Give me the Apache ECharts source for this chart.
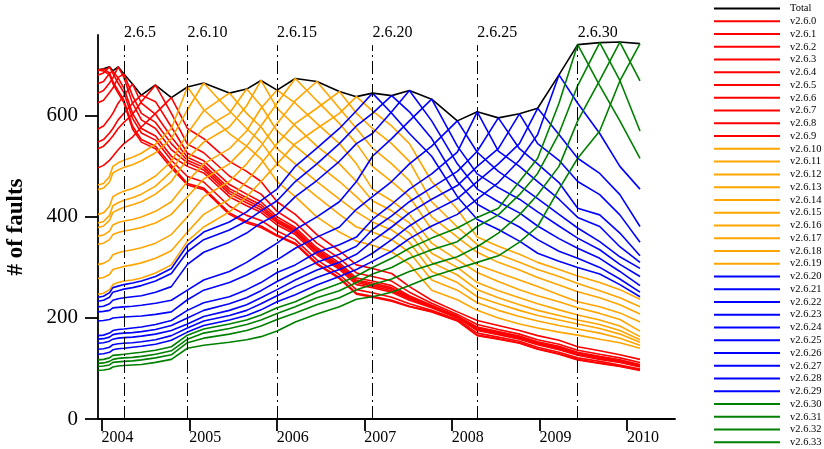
<!DOCTYPE html>
<html>
<head>
<meta charset="utf-8">
<script src="https://cdn.jsdelivr.net/npm/echarts@6/dist/echarts.min.js"></script>
<style>
html, body { margin: 0; padding: 0; background: #fff; }
#chart { width: 824px; height: 449px; }
</style>
</head>
<body>
<div id="chart"></div>
<script>
// Release dates of the Linux 2.6.x kernels (one x position per release)
const releaseDates = [
  '2003-12-17', '2004-01-09', '2004-02-03', '2004-02-17', '2004-03-10', '2004-04-03',
  '2004-05-09', '2004-06-15', '2004-08-13', '2004-10-18', '2004-12-24', '2005-03-02',
  '2005-06-17', '2005-08-28', '2005-10-27', '2006-01-02', '2006-03-19', '2006-06-17',
  '2006-09-19', '2006-11-29', '2007-02-04', '2007-04-25', '2007-07-08', '2007-10-09',
  '2008-01-24', '2008-04-16', '2008-07-13', '2008-10-09', '2008-12-24', '2009-03-23',
  '2009-06-09', '2009-09-09', '2009-12-02', '2010-02-24'
];

const versionNames = [
  'v2.6.0', 'v2.6.1', 'v2.6.2', 'v2.6.3', 'v2.6.4', 'v2.6.5', 'v2.6.6', 'v2.6.7', 'v2.6.8', 'v2.6.9',
  'v2.6.10', 'v2.6.11', 'v2.6.12', 'v2.6.13', 'v2.6.14', 'v2.6.15', 'v2.6.16', 'v2.6.17', 'v2.6.18', 'v2.6.19',
  'v2.6.20', 'v2.6.21', 'v2.6.22', 'v2.6.23', 'v2.6.24', 'v2.6.25', 'v2.6.26', 'v2.6.27', 'v2.6.28', 'v2.6.29',
  'v2.6.30', 'v2.6.31', 'v2.6.32', 'v2.6.33'
];

// Total number of faults in each release
const totalFaults = [691, 693, 697, 689, 697, 683, 663, 641, 661, 636, 657, 665, 645, 653, 670, 651, 674, 668, 648, 638,
  645, 640, 650, 633, 590, 608, 596, 604, 615, 681, 741, 745, 746, 743];

// Faults of each version that are also present in every other release
const v2_6_0 = [691, 689, 681, 664, 645, 626, 574, 548, 535, 497, 463, 454, 405, 388, 379, 362, 346, 306, 278, 247, 241, 233, 222, 212, 194, 165, 158, 150, 138, 128, 117, 110, 104, 96];
const v2_6_1 = [689, 693, 685, 668, 650, 631, 580, 553, 540, 502, 466, 457, 408, 391, 382, 364, 348, 308, 280, 249, 243, 235, 223, 213, 195, 166, 159, 151, 139, 129, 118, 111, 105, 97];
const v2_6_2 = [681, 685, 697, 684, 665, 646, 595, 566, 552, 512, 480, 469, 421, 403, 393, 372, 355, 315, 286, 256, 250, 241, 228, 215, 197, 170, 162, 154, 142, 132, 121, 114, 107, 99];
const v2_6_3 = [664, 668, 684, 689, 675, 655, 605, 575, 560, 520, 500, 487, 440, 422, 409, 384, 365, 325, 296, 266, 260, 251, 235, 220, 200, 175, 167, 158, 147, 137, 126, 118, 112, 103];
const v2_6_4 = [645, 650, 665, 675, 697, 676, 625, 592, 575, 533, 507, 493, 446, 428, 414, 389, 369, 329, 299, 270, 263, 254, 238, 221, 201, 177, 169, 160, 149, 139, 127, 120, 113, 105];
const v2_6_5 = [626, 631, 646, 655, 676, 683, 640, 605, 587, 545, 512, 498, 451, 433, 419, 392, 372, 332, 302, 273, 266, 257, 240, 222, 202, 178, 170, 161, 150, 140, 128, 121, 114, 106];
const v2_6_6 = [574, 580, 595, 605, 625, 640, 663, 625, 603, 558, 518, 503, 456, 438, 424, 395, 375, 335, 305, 275, 269, 260, 242, 223, 203, 180, 171, 162, 151, 142, 130, 122, 115, 107];
const v2_6_7 = [548, 553, 566, 575, 592, 605, 625, 641, 628, 578, 526, 511, 464, 445, 430, 400, 379, 339, 309, 279, 273, 264, 244, 225, 204, 182, 173, 164, 153, 144, 132, 124, 117, 108];
const v2_6_8 = [535, 540, 552, 560, 575, 587, 603, 628, 661, 605, 544, 527, 481, 461, 445, 411, 388, 348, 318, 289, 282, 273, 251, 229, 207, 187, 177, 168, 157, 148, 136, 128, 121, 112];
const v2_6_9 = [497, 502, 512, 520, 533, 545, 558, 578, 605, 636, 575, 555, 510, 490, 470, 430, 405, 365, 333, 305, 298, 288, 262, 235, 212, 195, 185, 175, 165, 156, 143, 135, 127, 118];
const v2_6_10 = [463, 466, 480, 500, 507, 512, 518, 526, 544, 575, 657, 612, 565, 540, 515, 470, 440, 400, 370, 352, 344, 331, 306, 255, 236, 215, 200, 188, 180, 172, 166, 158, 151, 140];
const v2_6_11 = [454, 457, 469, 487, 493, 498, 503, 511, 527, 555, 612, 665, 610, 575, 548, 505, 475, 440, 405, 380, 370, 355, 330, 275, 255, 230, 215, 203, 194, 185, 178, 170, 160, 146];
const v2_6_12 = [405, 408, 421, 440, 446, 451, 456, 464, 481, 510, 565, 610, 645, 605, 578, 535, 505, 470, 435, 410, 390, 374, 350, 292, 270, 242, 228, 215, 205, 196, 188, 179, 168, 152];
const v2_6_13 = [388, 391, 403, 422, 428, 433, 438, 445, 461, 490, 540, 575, 605, 653, 620, 570, 540, 505, 470, 440, 410, 392, 368, 310, 285, 256, 240, 226, 215, 205, 196, 187, 175, 157];
const v2_6_14 = [379, 382, 393, 409, 414, 419, 424, 430, 445, 470, 515, 548, 578, 620, 670, 615, 580, 540, 505, 470, 432, 412, 388, 328, 300, 270, 254, 240, 228, 216, 206, 196, 184, 163];
const v2_6_15 = [362, 364, 372, 384, 389, 392, 395, 400, 411, 430, 470, 505, 535, 570, 615, 651, 625, 585, 545, 505, 455, 432, 405, 348, 315, 290, 272, 256, 244, 232, 220, 209, 197, 174];
const v2_6_16 = [346, 348, 355, 365, 369, 372, 375, 379, 388, 405, 440, 475, 505, 540, 580, 625, 674, 630, 585, 545, 500, 470, 440, 375, 338, 305, 290, 275, 262, 246, 232, 222, 210, 192];
const v2_6_17 = [306, 308, 315, 325, 329, 332, 335, 339, 348, 365, 400, 440, 470, 505, 540, 585, 630, 668, 615, 575, 536, 505, 472, 400, 360, 330, 310, 295, 280, 265, 252, 240, 226, 208];
const v2_6_18 = [278, 280, 286, 296, 299, 302, 305, 309, 318, 333, 370, 405, 435, 470, 505, 545, 585, 615, 648, 605, 575, 545, 510, 430, 380, 345, 326, 310, 296, 282, 268, 254, 240, 222];
const v2_6_19 = [247, 249, 256, 266, 270, 273, 275, 279, 289, 305, 352, 380, 410, 440, 470, 505, 545, 575, 605, 638, 610, 580, 545, 470, 415, 360, 342, 326, 310, 296, 283, 270, 256, 237];
const v2_6_20 = [241, 243, 250, 260, 263, 266, 269, 273, 282, 298, 344, 370, 390, 410, 432, 455, 500, 536, 575, 610, 645, 605, 565, 520, 440, 395, 375, 352, 328, 312, 300, 287, 266, 242];
const v2_6_21 = [233, 235, 241, 251, 254, 257, 260, 264, 273, 288, 331, 355, 374, 392, 412, 432, 470, 505, 545, 580, 605, 640, 608, 555, 470, 425, 402, 380, 355, 332, 318, 300, 277, 251];
const v2_6_22 = [222, 223, 228, 235, 238, 240, 242, 244, 251, 262, 306, 330, 350, 368, 388, 405, 440, 472, 510, 545, 565, 608, 650, 590, 505, 455, 430, 408, 382, 357, 338, 318, 292, 264];
const v2_6_23 = [212, 213, 215, 220, 221, 222, 223, 225, 229, 235, 255, 275, 292, 310, 328, 348, 375, 400, 430, 470, 520, 555, 590, 633, 540, 485, 458, 435, 410, 382, 358, 335, 306, 282];
const v2_6_24 = [194, 195, 197, 200, 201, 202, 203, 204, 207, 212, 236, 255, 270, 285, 300, 315, 338, 360, 380, 415, 440, 470, 505, 540, 590, 528, 490, 462, 436, 405, 378, 351, 321, 298];
const v2_6_25 = [165, 166, 170, 175, 177, 178, 180, 182, 187, 195, 215, 230, 242, 256, 270, 290, 305, 330, 345, 360, 395, 425, 455, 485, 528, 608, 530, 500, 470, 435, 399, 381, 341, 310];
const v2_6_26 = [158, 159, 162, 167, 169, 170, 171, 173, 177, 185, 200, 215, 228, 240, 254, 272, 290, 310, 326, 342, 375, 402, 430, 458, 490, 530, 596, 535, 505, 468, 417, 404, 368, 323];
const v2_6_27 = [150, 151, 154, 158, 160, 161, 162, 164, 168, 175, 188, 203, 215, 226, 240, 256, 275, 295, 310, 326, 352, 380, 408, 435, 462, 500, 535, 604, 545, 512, 470, 444, 404, 350];
const v2_6_28 = [138, 139, 142, 147, 149, 150, 151, 153, 157, 165, 180, 194, 205, 215, 228, 244, 262, 280, 296, 310, 328, 355, 382, 410, 436, 470, 505, 545, 615, 563, 516, 486, 444, 381];
const v2_6_29 = [128, 129, 132, 137, 139, 140, 142, 144, 148, 156, 172, 185, 196, 205, 216, 232, 246, 265, 282, 296, 312, 332, 357, 382, 405, 435, 468, 512, 563, 681, 625, 565, 500, 455];
const v2_6_30 = [117, 118, 121, 126, 127, 128, 130, 132, 136, 143, 166, 178, 188, 196, 206, 220, 232, 252, 268, 283, 300, 318, 338, 358, 378, 399, 417, 470, 516, 625, 741, 660, 590, 516];
const v2_6_31 = [110, 111, 114, 118, 120, 121, 122, 124, 128, 135, 158, 170, 179, 187, 196, 209, 222, 240, 254, 270, 287, 300, 318, 335, 351, 381, 404, 444, 486, 565, 660, 745, 670, 570];
const v2_6_32 = [104, 105, 107, 112, 113, 114, 115, 117, 121, 127, 151, 160, 168, 175, 184, 197, 210, 226, 240, 256, 266, 277, 292, 306, 321, 341, 368, 404, 444, 500, 590, 670, 746, 669];
const v2_6_33 = [96, 97, 99, 103, 105, 106, 107, 108, 112, 118, 140, 146, 152, 157, 163, 174, 192, 208, 222, 237, 242, 251, 264, 282, 298, 310, 323, 350, 381, 455, 516, 570, 669, 743];

const versionFaults = [
  v2_6_0, v2_6_1, v2_6_2, v2_6_3, v2_6_4, v2_6_5, v2_6_6, v2_6_7, v2_6_8, v2_6_9,
  v2_6_10, v2_6_11, v2_6_12, v2_6_13, v2_6_14, v2_6_15, v2_6_16, v2_6_17, v2_6_18, v2_6_19,
  v2_6_20, v2_6_21, v2_6_22, v2_6_23, v2_6_24, v2_6_25, v2_6_26, v2_6_27, v2_6_28, v2_6_29,
  v2_6_30, v2_6_31, v2_6_32, v2_6_33
];

// Releases marked with a vertical line, and their labels
const markedReleases = [5, 10, 15, 20, 25, 30];
const markedLabels = ['2.6.5', '2.6.10', '2.6.15', '2.6.20', '2.6.25', '2.6.30'];

// Year ticks along the time axis
const yearTicks = ['2004-01-01', '2005-01-01', '2006-01-01', '2007-01-01', '2008-01-01', '2009-01-01', '2010-01-01'];
const yearLabels = ['2004', '2005', '2006', '2007', '2008', '2009', '2010'];

// Fault-count ticks
const countTicks = [0, 200, 400, 600];

const axisStart = '2003-12-17';
const axisEnd = '2010-07-20';

// Dates become day numbers so the axis can be a plain value axis
function toDay(s) {
  const p = s.split('-').map(Number);
  return Math.round(Date.UTC(p[0], p[1] - 1, p[2]) / 86400000);
}

const releaseDays = releaseDates.map(toDay);
const yearTickDays = yearTicks.map(toDay);

const groupColors = ['#ff0000', '#ffa500', '#0000ff', '#008000'];
const serif = "'Liberation Serif', 'DejaVu Serif', serif";

function pairs(values) {
  return values.map((v, i) => [releaseDays[i], v]);
}

const series = [];

series.push({
  name: 'Total',
  type: 'line',
  data: pairs(totalFaults),
  showSymbol: false,
  symbol: 'none',
  lineStyle: { color: '#000', width: 1.6 },
  itemStyle: { color: '#000' },
  markLine: {
    silent: true,
    symbol: ['none', 'none'],
    animation: false,
    lineStyle: { color: '#000', width: 1, type: [13, 4, 2, 4] },
    label: {
      show: true,
      position: 'end',
      align: 'left',
      distance: 4,
      color: '#000',
      fontFamily: serif,
      fontSize: 16
    },
    data: markedReleases.map((idx, k) => [
      { coord: [releaseDays[idx], 0] },
      { coord: [releaseDays[idx], 740], label: { formatter: markedLabels[k] } }
    ])
  }
});

versionFaults.forEach((values, i) => {
  const color = groupColors[Math.floor(i / 10)];
  series.push({
    name: versionNames[i],
    type: 'line',
    data: pairs(values),
    showSymbol: false,
    symbol: 'none',
    lineStyle: { color: color, width: 1.6 },
    itemStyle: { color: color }
  });
});

const chart = echarts.init(document.getElementById('chart'), null, { renderer: 'canvas' });

chart.setOption({
  animation: false,
  backgroundColor: '#fff',
  grid: { left: 98, right: 149, top: 35, bottom: 30, containLabel: false, outerBoundsMode: 'none' },
  legend: {
    orient: 'vertical',
    left: 714,
    top: 3,
    padding: 0,
    itemWidth: 66,
    itemHeight: 11,
    itemGap: 1.76,
    selectedMode: false,
    icon: 'path://M0,5 L66,5 L66,7 L0,7 Z',
    textStyle: { fontFamily: serif, fontSize: 10.5, color: '#000', lineHeight: 11, padding: [0, 0, 0, 5] },
    data: ['Total'].concat(versionNames)
  },
  xAxis: {
    type: 'value',
    min: toDay(axisStart),
    max: toDay(axisEnd),
    axisLine: { show: true, onZero: false, lineStyle: { color: '#000', width: 1.8 } },
    axisTick: { show: true, length: 12, inside: false, lineStyle: { color: '#000', width: 1.8 }, customValues: yearTickDays },
    axisLabel: {
      customValues: yearTickDays,
      formatter: function (v) { return yearLabels[yearTickDays.indexOf(v)] || ''; },
      align: 'left',
      margin: 11,
      color: '#000',
      fontFamily: serif,
      fontSize: 16
    },
    splitLine: { show: false }
  },
  yAxis: {
    type: 'value',
    min: 0,
    max: 760,
    name: '# of faults',
    nameLocation: 'middle',
    nameGap: 70,
    nameMoveOverlap: false,
    nameTextStyle: { fontFamily: serif, fontSize: 23, fontWeight: 'bold', color: '#000' },
    axisLine: { show: true, lineStyle: { color: '#000', width: 1.8 } },
    axisTick: { show: true, length: 13, inside: false, lineStyle: { color: '#000', width: 1.8 }, customValues: countTicks },
    axisLabel: { customValues: countTicks, margin: 20, color: '#000', fontFamily: serif, fontSize: 21 },
    splitLine: { show: false }
  },
  series: series
});
</script>
</body>
</html>
